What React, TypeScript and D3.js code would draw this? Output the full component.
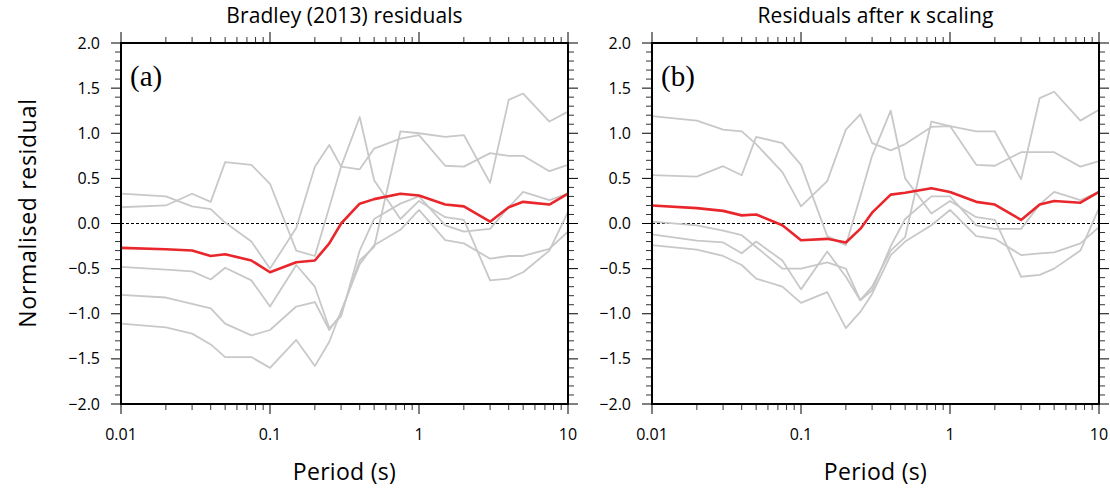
import React from 'react'
import * as d3 from 'd3'

// spectral periods (s)
const periods = [0.01, 0.02, 0.03, 0.04, 0.05, 0.075, 0.1, 0.15, 0.2, 0.25, 0.3, 0.4, 0.5, 0.75, 1, 1.5, 2, 3, 4, 5, 7.5, 10]

// (a) Bradley (2013) residuals, one line per site
const rawSite1 = [0.33, 0.30, 0.19, 0.16, 0.01, -0.20, -0.50, -0.05, 0.63, 0.87, 0.63, 0.60, 0.83, 0.94, 0.98, 0.64, 0.63, 0.78, 0.75, 0.75, 0.58, 0.65]
const rawSite2 = [0.18, 0.20, 0.33, 0.24, 0.68, 0.65, 0.44, -0.30, -0.36, 0.18, 0.63, 1.18, 0.48, 0.05, 0.25, 0.07, 0.04, -0.63, -0.61, -0.54, -0.30, 0.13]
const rawSite3 = [-0.48, -0.51, -0.53, -0.62, -0.49, -0.63, -0.92, -0.46, -0.70, -1.16, -1.03, -0.30, 0.05, 0.22, 0.30, -0.02, -0.09, -0.06, 0.18, 0.35, 0.26, 0.33]
const rawSite4 = [-0.79, -0.82, -0.89, -0.94, -1.11, -1.24, -1.18, -0.92, -0.87, -1.18, -1.00, -0.41, -0.26, 1.02, 1.00, 0.96, 0.98, 0.45, 1.37, 1.44, 1.13, 1.24]
const rawSite5 = [-1.11, -1.15, -1.22, -1.34, -1.48, -1.48, -1.60, -1.29, -1.58, -1.31, -0.97, -0.45, -0.24, -0.07, 0.15, -0.185, -0.22, -0.39, -0.36, -0.36, -0.28, -0.09]
const rawMean = [-0.27, -0.285, -0.30, -0.36, -0.34, -0.41, -0.54, -0.43, -0.41, -0.22, 0.0, 0.22, 0.27, 0.33, 0.31, 0.21, 0.19, 0.02, 0.18, 0.24, 0.21, 0.33]

// (b) residuals after kappa scaling
const kapSite1 = [1.19, 1.14, 1.04, 1.02, 0.88, 0.57, 0.19, 0.47, 1.04, 1.21, 0.89, 0.81, 0.88, 1.07, 1.08, 0.65, 0.64, 0.79, 0.79, 0.79, 0.63, 0.69]
const kapSite2 = [0.535, 0.52, 0.635, 0.535, 0.96, 0.89, 0.65, -0.14, -0.24, 0.30, 0.75, 1.25, 0.50, 0.11, 0.25, 0.07, 0.04, -0.59, -0.57, -0.50, -0.30, 0.17]
const kapSite3 = [-0.12, -0.19, -0.21, -0.33, -0.20, -0.41, -0.73, -0.31, -0.59, -0.85, -0.74, -0.25, 0.05, 0.30, 0.30, -0.02, -0.06, -0.06, 0.21, 0.35, 0.26, 0.35]
const kapSite4 = [0.02, -0.02, -0.08, -0.13, -0.26, -0.50, -0.50, -0.43, -0.50, -0.85, -0.70, -0.30, -0.15, 1.13, 1.08, 1.02, 1.02, 0.49, 1.39, 1.46, 1.14, 1.26]
const kapSite5 = [-0.24, -0.29, -0.36, -0.46, -0.61, -0.70, -0.88, -0.76, -1.16, -0.98, -0.78, -0.35, -0.20, -0.02, 0.15, -0.14, -0.17, -0.35, -0.33, -0.32, -0.22, -0.04]
const kapMean = [0.20, 0.17, 0.14, 0.09, 0.10, -0.02, -0.185, -0.17, -0.21, -0.06, 0.12, 0.32, 0.34, 0.39, 0.35, 0.24, 0.21, 0.04, 0.21, 0.25, 0.23, 0.35]

const xMajorTicks = [0.01, 0.1, 1, 10]
const xTickLabels = ['0.01', '0.1', '1', '10']
const yMajorTicks = [-2, -1.5, -1, -0.5, 0, 0.5, 1, 1.5, 2]

const sans = "'Open Sans', 'DejaVu Sans', sans-serif"
const top = 43
const bottom = 404

function Panel({ left, right, title, tag, sites, mean }) {
  const x = d3.scaleLog().domain([0.01, 10]).range([left, right])
  const y = d3.scaleLinear().domain([-2, 2]).range([bottom, top])
  const line = d3.line().x((d, i) => x(periods[i])).y(d => y(d))

  const xMinor = []
  for (let dec = 0.01; dec < 10; dec *= 10) {
    for (let k = 2; k <= 9; k++) xMinor.push(+(dec * k).toPrecision(3))
  }
  const yMinor = d3.range(-20, 21).map(v => v / 10).filter(v => Math.abs(v * 2 - Math.round(v * 2)) > 1e-6)

  const cx = (left + right) / 2
  return (
    <g>
      <text x={cx} y={23} textAnchor="middle" fontFamily={sans} fontSize={21} letterSpacing={0.1}>{title}</text>
      <text x={left + 9} y={86} fontFamily="'Liberation Serif', 'Times New Roman', serif" fontSize={29}>{tag}</text>

      <line x1={left} x2={right} y1={y(0)} y2={y(0)} stroke="#000" strokeWidth={1} strokeDasharray="3,2" />
      {sites.map((s, i) => (
        <path key={i} d={line(s)} fill="none" stroke="#c8c8c8" strokeWidth={1.8} strokeLinejoin="round" />
      ))}
      <path d={line(mean)} fill="none" stroke="#e8262b" strokeWidth={2.6} strokeLinejoin="round" />

      {/* ticks */}
      {xMajorTicks.map(t => (
        <g key={'xm' + t}>
          <line x1={x(t)} x2={x(t)} y1={bottom} y2={bottom + 10} stroke="#000" strokeWidth={1} />
          <line x1={x(t)} x2={x(t)} y1={top} y2={top - 11} stroke="#000" strokeWidth={1} />
        </g>
      ))}
      {xMinor.map(t => (
        <g key={'xn' + t}>
          <line x1={x(t)} x2={x(t)} y1={bottom} y2={bottom + 6} stroke="#333" strokeWidth={1} />
          <line x1={x(t)} x2={x(t)} y1={top} y2={top - 6} stroke="#333" strokeWidth={1} />
        </g>
      ))}
      {yMajorTicks.map(t => (
        <g key={'ym' + t}>
          <line x1={left} x2={left - 10} y1={y(t)} y2={y(t)} stroke="#000" strokeWidth={1} />
          <line x1={right} x2={right + 10} y1={y(t)} y2={y(t)} stroke="#000" strokeWidth={1} />
        </g>
      ))}
      {yMinor.map(t => (
        <g key={'yn' + t}>
          <line x1={left} x2={left - 6} y1={y(t)} y2={y(t)} stroke="#333" strokeWidth={1} />
          <line x1={right} x2={right + 6} y1={y(t)} y2={y(t)} stroke="#333" strokeWidth={1} />
        </g>
      ))}
      <rect x={left} y={top} width={right - left} height={bottom - top} fill="none" stroke="#000" strokeWidth={2} />

      {xMajorTicks.map((t, i) => (
        <text key={'xl' + t} x={x(t)} y={440} textAnchor="middle" fontFamily={sans} fontSize={16}>{xTickLabels[i]}</text>
      ))}
      {yMajorTicks.map(t => (
        <text key={'yl' + t} x={left - 21} y={y(t) + 5.5} textAnchor="end" fontFamily={sans} fontSize={16}>
          {t.toFixed(1).replace('-', '\u2212')}
        </text>
      ))}
      <text x={cx} y={480} textAnchor="middle" fontFamily={sans} fontSize={23} letterSpacing={0.3}>Period (s)</text>
    </g>
  )
}

export default function App() {
  return (
    <svg width={1110} height={492} style={{ position: 'absolute', left: 0, top: 0, background: '#fff' }}>
      <Panel left={121} right={568} title="Bradley (2013) residuals" tag="(a)"
        sites={[rawSite1, rawSite2, rawSite3, rawSite4, rawSite5]} mean={rawMean} />
      <Panel left={652} right={1099} title={'Residuals after \u03ba scaling'} tag="(b)"
        sites={[kapSite1, kapSite2, kapSite3, kapSite4, kapSite5]} mean={kapMean} />
      <text transform="translate(36,213) rotate(-90)" textAnchor="middle" fontFamily={sans} fontSize={23} letterSpacing={0.7}>Normalised residual</text>
    </svg>
  )
}
